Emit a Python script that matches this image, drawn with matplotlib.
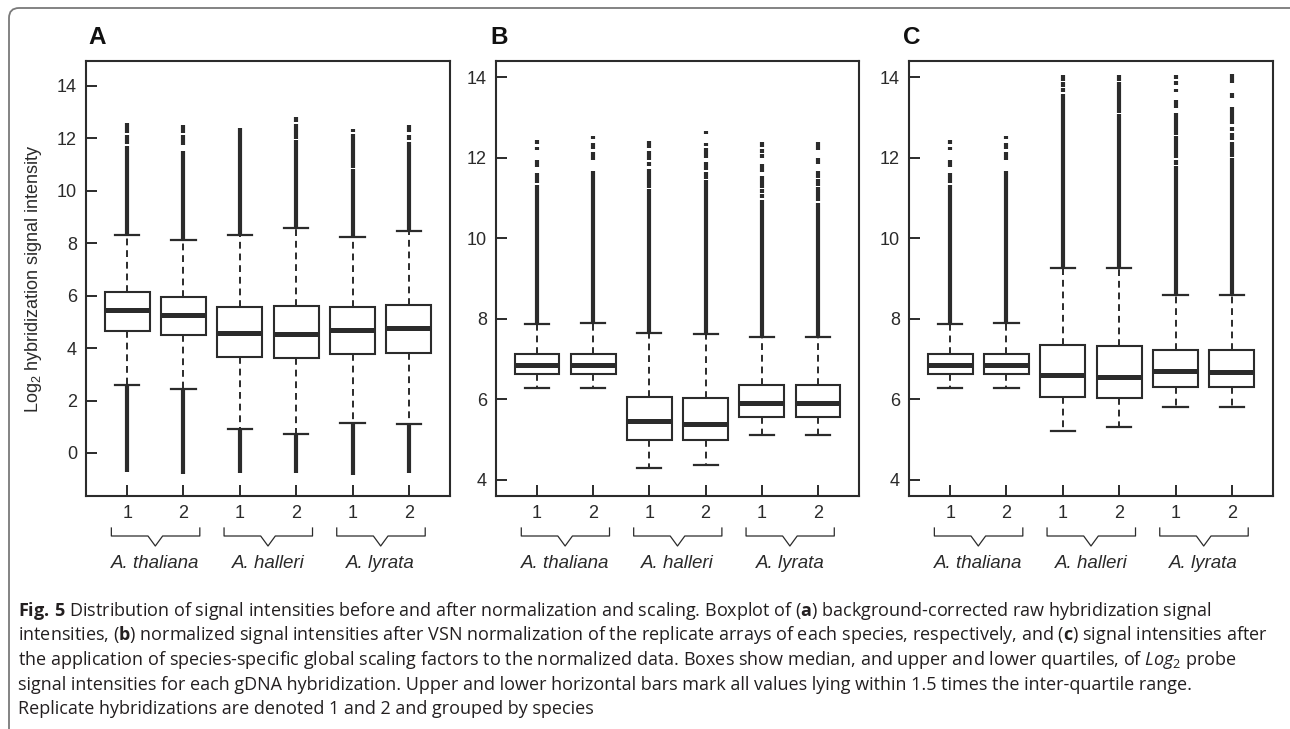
import matplotlib
matplotlib.use("Agg")
import matplotlib.pyplot as plt
from matplotlib import transforms as mtransforms
from matplotlib.patches import FancyBboxPatch

plt.rcParams.update({
    'font.family': ['Liberation Sans', 'DejaVu Sans'],
    'mathtext.fontset': 'custom',
    'mathtext.rm': 'Open Sans',
    'mathtext.bf': 'Open Sans:bold',
    'mathtext.it': 'Open Sans:italic',
    'mathtext.sf': 'Liberation Sans',
})

# ---------------- data ----------------
replicates = ['1', '2', '1', '2', '1', '2']
species = ['A. thaliana', 'A. halleri', 'A. lyrata']
panel_labels = ['A', 'B', 'C']
ylabel_text = 'Log$_\\mathsf{2}$ hybridization signal intensity'

# Panel A: background-corrected raw intensities
A_q1 = [4.64, 4.49, 3.66, 3.63, 3.76, 3.80]
A_med = [5.47, 5.28, 4.57, 4.55, 4.68, 4.75]
A_q3 = [6.15, 5.96, 5.55, 5.62, 5.58, 5.66]
A_whislo = [2.61, 2.44, 0.92, 0.71, 1.13, 1.10]
A_whishi = [8.31, 8.12, 8.30, 8.58, 8.23, 8.46]
A_upper_runs = [
    [(8.31, 11.70), (11.80, 12.12), (12.20, 12.60)],
    [(8.12, 11.52), (11.76, 12.12), (12.20, 12.50)],
    [(8.30, 12.40)],
    [(8.58, 11.95), (11.97, 12.56), (12.64, 12.80)],
    [(8.23, 10.82), (10.87, 12.16), (12.24, 12.36)],
    [(8.46, 11.85), (11.92, 12.12), (12.24, 12.52)],
]
A_lower_runs = [
    [(-0.71, 2.61)],
    [(-0.79, 2.44)],
    [(-0.75, 0.92)],
    [(-0.75, 0.71)],
    [(-0.83, 1.13)],
    [(-0.75, 1.10)],
]

# Panel B: VSN-normalized intensities
B_q1 = [6.63, 6.63, 4.99, 4.98, 5.56, 5.55]
B_med = [6.86, 6.86, 5.45, 5.39, 5.90, 5.90]
B_q3 = [7.13, 7.13, 6.05, 6.04, 6.36, 6.36]
B_whislo = [6.28, 6.28, 4.30, 4.38, 5.11, 5.12]
B_whishi = [7.88, 7.90, 7.64, 7.63, 7.54, 7.55]
B_upper_runs = [
    [(7.88, 11.33), (11.38, 11.63), (11.78, 11.95), (12.20, 12.27), (12.35, 12.45)],
    [(7.90, 11.68), (11.93, 12.15), (12.22, 12.37), (12.47, 12.55)],
    [(7.64, 11.22), (11.25, 11.73), (11.80, 11.88), (11.95, 12.17), (12.25, 12.42)],
    [(7.63, 11.45), (11.48, 11.65), (11.70, 11.88), (11.98, 12.25), (12.30, 12.37), (12.60, 12.67)],
    [(7.54, 10.95), (11.00, 11.10), (11.13, 11.23), (11.25, 11.55), (11.65, 11.85),
     (12.00, 12.10), (12.12, 12.22), (12.27, 12.40)],
    [(7.55, 10.88), (10.92, 11.28), (11.30, 11.48), (11.50, 11.68), (11.85, 11.98), (12.20, 12.40)],
]
B_lower_runs = [[], [], [], [], [], []]

# Panel C: after species-specific global scaling
C_q1 = [6.63, 6.63, 6.05, 6.03, 6.31, 6.30]
C_med = [6.86, 6.86, 6.60, 6.55, 6.70, 6.69]
C_q3 = [7.13, 7.13, 7.35, 7.33, 7.22, 7.22]
C_whislo = [6.28, 6.28, 5.22, 5.31, 5.80, 5.82]
C_whishi = [7.88, 7.90, 9.27, 9.26, 8.58, 8.59]
C_upper_runs = [
    [(7.88, 11.33), (11.38, 11.63), (11.78, 11.95), (12.20, 12.27), (12.35, 12.45)],
    [(7.90, 11.68), (11.93, 12.15), (12.22, 12.37), (12.47, 12.55)],
    [(9.27, 13.59), (13.64, 13.74), (13.76, 13.89), (13.91, 14.06)],
    [(9.26, 13.09), (13.12, 13.89), (13.91, 14.06)],
    [(8.58, 11.80), (11.83, 11.93), (11.98, 12.55), (12.57, 12.80), (12.82, 13.12),
     (13.24, 13.44), (13.64, 13.71), (13.81, 13.91), (13.96, 14.06)],
    [(8.59, 12.00), (12.02, 12.40), (12.45, 12.62), (12.65, 12.75), (12.84, 13.27),
     (13.48, 13.61), (13.86, 14.08)],
]
C_lower_runs = [[], [], [], [], [], []]

A_yticks = [0, 2, 4, 6, 8, 10, 12, 14]
BC_yticks = [4, 6, 8, 10, 12, 14]

caption_lines = [
    r"$\mathbf{Fig.\,5}$ Distribution of signal intensities before and after normalization and scaling. Boxplot of ($\mathbf{a}$) background-corrected raw hybridization signal",
    r"intensities, ($\mathbf{b}$) normalized signal intensities after VSN normalization of the replicate arrays of each species, respectively, and ($\mathbf{c}$) signal intensities after",
    r"the application of species-specific global scaling factors to the normalized data. Boxes show median, and upper and lower quartiles, of $\mathit{Log}_{\mathrm{2}}$ probe",
    r"signal intensities for each gDNA hybridization. Upper and lower horizontal bars mark all values lying within 1.5 times the inter-quartile range.",
    r"Replicate hybridizations are denoted 1 and 2 and grouped by species",
]

# ---------------- figure ----------------
W, H = 1290, 729
fig = plt.figure(figsize=(W / 100, H / 100), dpi=100)

LINE = '#2b2b2b'
TXT = '#2a2a2a'

# outer frame (open to the right / bottom)
frame = FancyBboxPatch((9, -60), 1400, H - 8 + 60,
                       boxstyle="round,pad=0,rounding_size=10",
                       transform=mtransforms.IdentityTransform(),
                       fill=False, edgecolor='#7a7a7a', linewidth=1.3)
fig.patches.append(frame)

panels = [
    dict(left=86, right=450, ylim=(-1.64, 14.95), yticks=A_yticks,
         q1=A_q1, med=A_med, q3=A_q3, wlo=A_whislo, whi=A_whishi,
         up=A_upper_runs, lo=A_lower_runs, letter_x=88),
    dict(left=496, right=859, ylim=(3.60, 14.40), yticks=BC_yticks,
         q1=B_q1, med=B_med, q3=B_q3, wlo=B_whislo, whi=B_whishi,
         up=B_upper_runs, lo=B_lower_runs, letter_x=490),
    dict(left=909, right=1273, ylim=(3.60, 14.40), yticks=BC_yticks,
         q1=C_q1, med=C_med, q3=C_q3, wlo=C_whislo, whi=C_whishi,
         up=C_upper_runs, lo=C_lower_runs, letter_x=903),
]

ax_top, ax_bot = 61, 496
positions = list(range(1, len(replicates) + 1))

for i, p in enumerate(panels):
    ax = fig.add_axes([p['left'] / W, 1 - ax_bot / H,
                       (p['right'] - p['left']) / W, (ax_bot - ax_top) / H])
    stats = []
    for k in range(len(replicates)):
        stats.append(dict(med=p['med'][k], q1=p['q1'][k], q3=p['q3'][k],
                          whislo=p['wlo'][k], whishi=p['whi'][k], fliers=[]))
    # outlier runs (drawn first, under the caps)
    for k, pos in enumerate(positions):
        for lo, hi in p['up'][k] + p['lo'][k]:
            ax.vlines(pos, lo, hi, colors=LINE, linewidth=3.0, capstyle='butt', zorder=2)
    ax.bxp(stats, positions=positions, widths=0.8, capwidths=0.43,
           showfliers=False, patch_artist=True,
           boxprops=dict(facecolor='white', edgecolor=LINE, linewidth=1.5),
           medianprops=dict(color=LINE, linewidth=3.6, solid_capstyle='butt'),
           whiskerprops=dict(color=LINE, linewidth=1.4, linestyle=(0, (3.5, 2.5))),
           capprops=dict(color=LINE, linewidth=1.6),
           zorder=3)
    ax.set_xlim(0.27, 6.73)
    ax.set_ylim(*p['ylim'])
    ax.set_yticks(p['yticks'])
    ax.set_yticklabels([str(t) for t in p['yticks']])
    ax.set_xticks(positions)
    ax.set_xticklabels(replicates)
    ax.tick_params(direction='in', length=8, width=1.4, color=LINE,
                   labelsize=13, labelcolor=TXT, pad=6.5)
    for s in ax.spines.values():
        s.set_linewidth(1.5)
        s.set_color(LINE)
    if i == 0:
        ax.set_ylabel(ylabel_text, fontsize=13, color=TXT)
        ax.yaxis.set_label_coords(-0.115, 0.5)

    # species brackets
    tr = mtransforms.blended_transform_factory(ax.transData, fig.transFigure)
    yb, yt, ytip, ylab = 1 - 536 / H, 1 - 528 / H, 1 - 546 / H, 1 - 563 / H
    for g, sp in enumerate(species):
        p1, p2 = positions[2 * g], positions[2 * g + 1]
        mid = (p1 + p2) / 2
        xs = [p1 - 0.28, p1 - 0.28, mid - 0.13, mid, mid + 0.13, p2 + 0.29, p2 + 0.29]
        ys = [yt, yb, yb, ytip, yb, yb, yt]
        ax.plot(xs, ys, transform=tr, color=LINE, linewidth=0.9, clip_on=False)
        ax.text(mid, ylab, sp, transform=tr, ha='center', va='center',
                fontsize=13.5, style='italic', color=TXT)

    fig.text(p['letter_x'] / W, 1 - 37 / H, panel_labels[i], fontsize=17.5,
             fontweight='bold', ha='left', va='center', color='#111111')

# caption
for j, line in enumerate(caption_lines):
    fig.text(17.5 / W, 1 - (611 + 24.5 * j) / H, line, fontsize=13.0,
             family='Open Sans', ha='left', va='center', color='#231f20')

fig.savefig('out.png', dpi=100)
